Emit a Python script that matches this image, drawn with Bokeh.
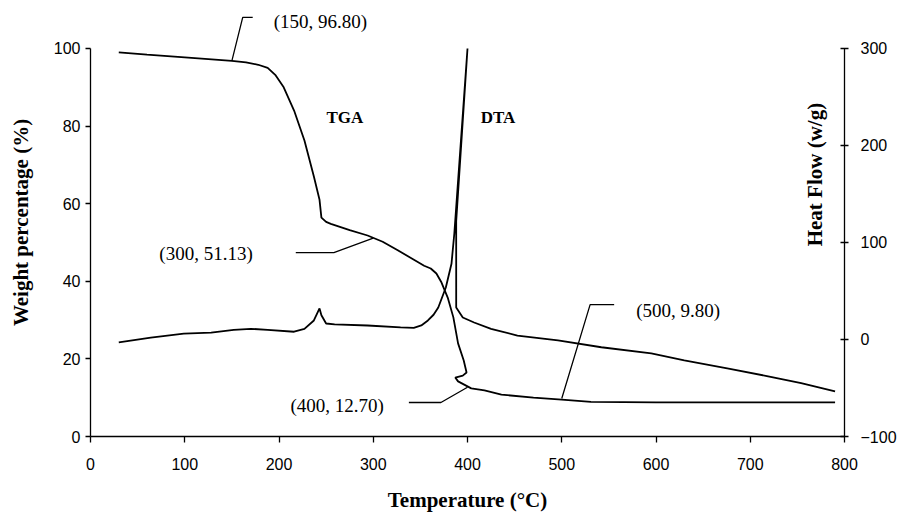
import math
from bokeh.plotting import figure
from bokeh.models import Range1d, LinearAxis, Label, FixedTicker
from bokeh.embed import file_html
from bokeh.resources import INLINE

# ---- data ----
tga_temp = [30, 60, 100, 150, 165, 178, 188, 196, 205, 216, 227, 237, 243, 245, 250,
            255, 275, 294, 310, 326, 340, 354, 361, 367, 372, 379, 385, 390, 396, 399,
            395, 387, 390, 404, 418, 436, 470, 500, 531, 600, 700, 790]
tga_weight = [99.0, 98.4, 97.7, 96.8, 96.4, 95.8, 95.0, 93.2, 90.0, 84.0, 76.3, 67.0,
              61.0, 56.4, 55.3, 54.8, 53.2, 51.8, 50.2, 48.0, 46.0, 44.0, 43.3, 42.0,
              39.9, 35.8, 30.7, 24.0, 19.6, 16.5, 15.7, 15.2, 14.2, 12.4, 11.9, 10.8,
              10.0, 9.5, 8.9, 8.8, 8.8, 8.8]

dta_temp = [30, 64, 99, 128, 152, 170, 188, 216, 227, 237, 243, 245, 250, 259, 294,
            329, 343, 351, 358, 364, 369, 377, 383, 386, 400, 388, 388, 395, 407, 425,
            453, 496, 542, 595, 630, 677, 719, 754, 790]
dta_heat = [-3, 2, 6, 7, 10, 11, 10, 8, 11, 19.6, 32, 25, 16.5, 15.5, 14.4,
            12.4, 12, 14.5, 19.6, 25.5, 33, 53.6, 78, 109, 300, 122, 33, 22.7, 17.5, 11,
            4, -1, -8, -14.4, -21.6, -30, -38, -45, -53.6]

ann_temp = [150, 300, 400, 500]
ann_weight = [96.80, 51.13, 12.70, 9.80]

x_ticks = [0, 100, 200, 300, 400, 500, 600, 700, 800]
w_ticks = [0, 20, 40, 60, 80, 100]
h_ticks = [-100, 0, 100, 200, 300]

# ---- layout / style ----
W_TOP = 110.3
SERIF = "Liberation Serif"
SANS = "Liberation Sans"

p = figure(frame_width=754, frame_height=428,
           x_range=Range1d(0, 800), y_range=Range1d(0, W_TOP),
           output_backend="svg", toolbar_location=None,
           min_border_left=90, min_border_right=48,
           min_border_top=8, min_border_bottom=68)
p.extra_y_ranges = {"heat": Range1d(-100, -100 + 4 * W_TOP)}
p.outline_line_color = None
p.xgrid.visible = False
p.ygrid.visible = False
p.background_fill_color = "white"
p.border_fill_color = "white"


def style_axis(ax, tin, tout, standoff):
    ax.axis_line_color = "black"
    ax.axis_line_width = 1.3
    ax.major_tick_line_color = "black"
    ax.major_tick_line_width = 1.3
    ax.major_tick_in = tin
    ax.major_tick_out = tout
    ax.minor_tick_line_color = None
    ax.major_label_text_font = SANS
    ax.major_label_text_font_size = "16px"
    ax.major_label_text_color = "black"
    ax.major_label_standoff = standoff


def style_title(ax, standoff):
    ax.axis_label_text_font = SERIF
    ax.axis_label_text_font_style = "bold"
    ax.axis_label_text_font_size = "21px"
    ax.axis_label_text_color = "black"
    ax.axis_label_standoff = standoff


xax = p.xaxis[0]
xax.ticker = FixedTicker(ticks=x_ticks)
xax.bounds = (0, 800)
style_axis(xax, 0, 6, 15)
xax.axis_label = "Temperature (\u00b0C)"
style_title(xax, 15)

yax = p.yaxis[0]
yax.ticker = FixedTicker(ticks=w_ticks)
yax.bounds = (0, 100)
style_axis(yax, 0, 5, 5)
yax.axis_label = "Weight percentage (%)"
style_title(yax, 18)

rax = LinearAxis(y_range_name="heat", ticker=FixedTicker(ticks=h_ticks), bounds=(-100, 300))
style_axis(rax, 4, 4, 12)
p.add_layout(rax, "right")

# curves
p.line(tga_temp, tga_weight, line_color="black", line_width=1.8)
p.line(dta_temp, dta_heat, line_color="black", line_width=1.8, y_range_name="heat")

# leader lines (elbow and end positions are layout, in data units)
elbows = [(161.5, 108.0, 172.1, 108.0),
          (258.2, 47.4, 217.8, 47.4),
          (371.8, 8.76, 337.8, 8.76),
          (530.1, 34.0, 555.6, 34.0)]
for (tx, wy), (ex, ey, fx, fy) in zip(zip(ann_temp, ann_weight), elbows):
    p.line([tx, ex, fx], [wy, ey, fy], line_color="black", line_width=1.3)

# annotation texts
text_pos = [(194.4, 107.0, "left"), (172.1, 47.2, "right"),
            (311.3, 8.0, "right"), (579.0, 32.5, "left")]
for (tx, wy), (lx, ly, al) in zip(zip(ann_temp, ann_weight), text_pos):
    p.add_layout(Label(x=lx, y=ly, text=f"({tx}, {wy:.2f})", text_align=al,
                       text_baseline="middle", text_font=SERIF,
                       text_font_size="19px", text_color="black"))

for lx, txt in [(269.9, "TGA"), (432.4, "DTA")]:
    p.add_layout(Label(x=lx, y=82.2, text=txt, text_align="center",
                       text_baseline="middle", text_font=SERIF, text_font_style="bold",
                       text_font_size="17px", text_color="black"))

# title of the right axis, drawn inside the plot as in the reference
p.add_layout(Label(x=769.2, y=67.5, text="Heat Flow (w/g)", angle=math.pi / 2,
                   text_align="center", text_baseline="middle", text_font=SERIF,
                   text_font_style="bold", text_font_size="21px", text_color="black"))

open("out.html", "w").write(file_html(p, INLINE))
